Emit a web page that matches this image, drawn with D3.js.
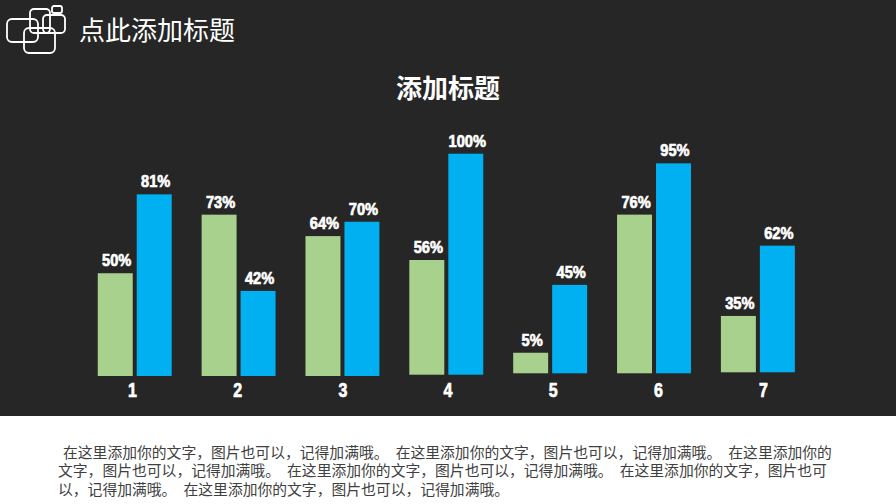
<!DOCTYPE html>
<html lang="zh-CN">
<head>
  <meta charset="UTF-8">
  <title>添加标题</title>
  <script src="https://d3js.org/d3.v7.min.js"></script>
  <style>
    html, body { margin: 0; padding: 0; background: #fff; overflow: hidden; }
    svg { display: block; }
    text { font-family: "Noto Sans CJK SC", sans-serif; }
    .num { font-family: "Liberation Sans", sans-serif; font-weight: 700; fill: #fff; stroke: #fff; stroke-width: 0.7px; }
  </style>
</head>
<body>
  <svg id="chart" width="896" height="504"></svg>

  <script>
    // Data
    const categories = ["1", "2", "3", "4", "5", "6", "7"];
    // printed labels
    const greenLabels = [50, 73, 64, 56, 5, 76, 35];
    const blueLabels = [81, 42, 70, 100, 45, 95, 62];
    // bar lengths as drawn (they don't follow the printed labels exactly)
    const greenBars = [46.5, 73, 63.3, 51.9, 9.3, 71.8, 25.5];
    const blueBars = [82.2, 38.5, 69.8, 100, 40, 95, 57.3];

    const headerTitle = "点此添加标题";
    const chartTitle = "添加标题";
    const bodyLines = [
      "在这里添加你的文字，图片也可以，记得加满哦。 在这里添加你的文字，图片也可以，记得加满哦。 在这里添加你的",
      "文字，图片也可以，记得加满哦。 在这里添加你的文字，图片也可以，记得加满哦。 在这里添加你的文字，图片也可",
      "以，记得加满哦。 在这里添加你的文字，图片也可以，记得加满哦。"
    ];

    const svg = d3.select("#chart");

    // Dark panel
    svg.append("rect").attr("width", 896).attr("height", 416).attr("fill", "#262626");

    // Header icon
    const icon = [[7, 19, 31, 23, 5], [24, 28, 31, 25, 5], [30, 9, 20, 24, 4], [43, 15, 22, 18, 4], [52, 6, 10, 7, 2]];
    svg.append("g").selectAll("rect")
      .data(icon)
      .join("rect")
      .attr("x", d => d[0])
      .attr("y", d => d[1])
      .attr("width", d => d[2])
      .attr("height", d => d[3])
      .attr("rx", d => d[4])
      .attr("fill", "none")
      .attr("stroke", "#fff")
      .attr("stroke-width", 1.8);

    svg.append("text")
      .attr("x", 79).attr("y", 40)
      .attr("font-size", 26).attr("fill", "#fff")
      .text(headerTitle);

    svg.append("text")
      .attr("x", 448).attr("y", 98)
      .attr("text-anchor", "middle")
      .attr("font-size", 26).attr("font-weight", 700).attr("fill", "#fff")
      .text(chartTitle);

    // Scales
    const baseline = 376;
    const x = d3.scaleBand().domain(categories).range([82.8, 809.8]).paddingInner(0.288).paddingOuter(0.144);
    const xSub = d3.scaleBand().domain(["green", "blue"]).range([0, x.bandwidth()]).paddingInner(0.1026);
    const y = d3.scaleLinear().domain([0, 100]).range([baseline, baseline - 221]);

    // the original slide sags a little toward the right
    const groupDrop = [0, 0, 0, 1.3, 2.7, 2.7, 3.7];

    // no condensed bold font here, so squeeze the number labels
    function squeeze(sel, k) {
      sel.each(function () {
        const w = this.getComputedTextLength();
        d3.select(this).attr("textLength", w * k).attr("lengthAdjust", "spacingAndGlyphs");
      });
    }

    const series = [
      { key: "green", color: "#A9D18E", bars: greenBars, labels: greenLabels },
      { key: "blue", color: "#00B0F0", bars: blueBars, labels: blueLabels }
    ];

    const groups = svg.selectAll("g.group")
      .data(categories)
      .join("g")
      .attr("class", "group")
      .attr("transform", (d, i) => `translate(${x(d)},${-groupDrop[i]})`);

    series.forEach(s => {
      groups.append("rect")
        .attr("x", xSub(s.key))
        .attr("y", (d, i) => y(s.bars[i]))
        .attr("width", xSub.bandwidth())
        .attr("height", (d, i) => y(0) - y(s.bars[i]))
        .attr("fill", s.color);

      groups.append("text")
        .attr("class", "num")
        .attr("x", xSub(s.key) + xSub.bandwidth() / 2 + 1.5)
        .attr("y", (d, i) => y(s.bars[i]) - 7)
        .attr("text-anchor", "middle")
        .attr("font-size", 17)
        .text((d, i) => s.labels[i] + "%")
        .call(squeeze, 0.86);
    });

    // Category axis, slightly wider than the bars in the original
    const xAxis = d3.axisBottom(d3.scalePoint().domain(categories).range([132, 763]))
      .tickSize(0)
      .tickPadding(0);
    const axisG = svg.append("g").attr("transform", "translate(0,383)").call(xAxis);
    axisG.select(".domain").remove();
    axisG.selectAll("text")
      .attr("class", "num")
      .attr("font-size", 20)
      .attr("dy", "0.71em")
      .call(squeeze, 0.8);

    // Body text
    svg.append("g").selectAll("text")
      .data(bodyLines)
      .join("text")
      .attr("x", (d, i) => i === 0 ? 63 : 58)
      .attr("y", (d, i) => 457.5 + i * 18.7)
      .attr("font-size", 14.8)
      .attr("word-spacing", 3.8)
      .attr("fill", "#404040")
      .text(d => d);
  </script>
</body>
</html>
